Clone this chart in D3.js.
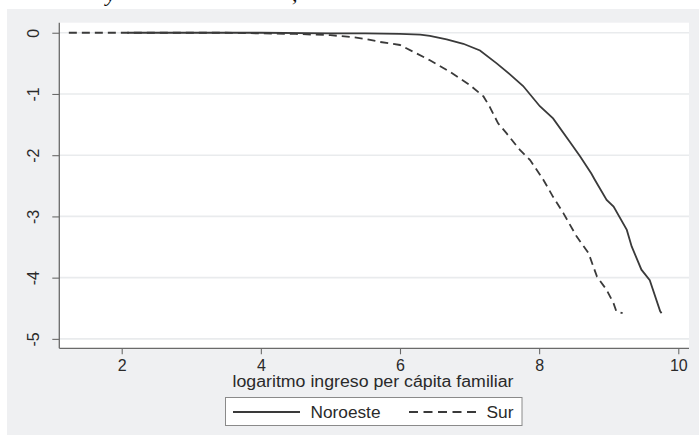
<!DOCTYPE html>
<html>
<head>
<meta charset="utf-8">
<script src="https://cdn.jsdelivr.net/npm/d3@7"></script>
<style>
  html, body { margin: 0; padding: 0; background: #ffffff; }
  svg { display: block; }
  text { font-family: "Liberation Sans", Arial, sans-serif; fill: #2a2a2a; }
</style>
</head>
<body>
<svg id="chart" width="699" height="439"></svg>
<script>
// Log income per capita (x) against the log of the cumulative share (y), by region
const noroesteX = [2.08, 3.0, 4.0, 5.0, 5.5, 6.0, 6.29, 6.43, 6.67, 6.91, 7.15, 7.39, 7.58, 7.77, 8.01, 8.20, 8.44, 8.59, 8.75, 8.80, 8.97, 9.07, 9.26, 9.33, 9.47, 9.59, 9.74, 9.76];
const noroesteY = [0.0, 0.0, 0.0, -0.01, -0.01, -0.02, -0.03, -0.05, -0.11, -0.18, -0.29, -0.50, -0.68, -0.87, -1.20, -1.40, -1.78, -2.02, -2.30, -2.40, -2.73, -2.84, -3.22, -3.49, -3.87, -4.04, -4.55, -4.58];

const surX = [1.24, 2.5, 3.5, 4.0, 4.5, 5.0, 5.3, 5.5, 5.71, 6.0, 6.43, 6.72, 7.0, 7.20, 7.29, 7.41, 7.53, 7.72, 7.87, 8.06, 8.20, 8.35, 8.54, 8.71, 8.83, 8.97, 9.07, 9.11, 9.20];
const surY = [0.0, 0.0, 0.0, -0.01, -0.02, -0.04, -0.07, -0.10, -0.15, -0.20, -0.45, -0.64, -0.85, -1.04, -1.21, -1.48, -1.64, -1.91, -2.08, -2.40, -2.68, -2.95, -3.33, -3.60, -3.98, -4.20, -4.42, -4.55, -4.58];

const xTicks = [2, 4, 6, 8, 10];
const yTicks = [0, -1, -2, -3, -4, -5];
const xTitle = "logaritmo ingreso per cápita familiar";
const seriesNames = ["Noroeste", "Sur"];

const svg = d3.select("#chart");
const ink = "#3a3a3a";

// last line of the page text above the figure, only its descenders in view
svg.append("text").attr("x", 106).attr("y", 0.5)
  .style("font-family", "'Liberation Serif', serif").style("font-style", "italic")
  .style("font-size", "22px").style("fill", "#111").text("y");
svg.append("text").attr("x", 292).attr("y", 0.5)
  .style("font-family", "'Liberation Serif', serif").style("font-style", "italic")
  .style("font-size", "22px").style("fill", "#111").text(",");

// graph region background
svg.append("rect").attr("x", 7).attr("y", 9).attr("width", 692).attr("height", 426)
  .attr("fill", "#eff0f2");

const x = d3.scaleLinear().domain([1.103, 10.154]).range([59.3, 689]);
const y = d3.scaleLinear().domain([0.164, -5.154]).range([22.7, 348.3]);

// plot region
svg.append("rect").attr("x", x.range()[0]).attr("y", y.range()[0])
  .attr("width", x.range()[1] - x.range()[0]).attr("height", y.range()[1] - y.range()[0])
  .attr("fill", "#ffffff");

// horizontal grid lines
svg.append("g").selectAll("line").data(yTicks).join("line")
  .attr("x1", x.range()[0]).attr("x2", x.range()[1])
  .attr("y1", d => y(d)).attr("y2", d => y(d))
  .attr("stroke", "#e9ebed").attr("stroke-width", 1.6);

// y axis
const yAxis = svg.append("g").attr("transform", `translate(${x.range()[0]},0)`)
  .call(d3.axisLeft(y).tickValues(yTicks).tickSize(7).tickFormat(d3.format("d")));
yAxis.select(".domain").attr("stroke", "#6a6a6a").attr("stroke-width", 1.3)
  .attr("d", `M0,${y.range()[0]}V${y.range()[1]}`);
yAxis.selectAll(".tick line").attr("stroke", "#6a6a6a").attr("stroke-width", 1.1);
yAxis.selectAll(".tick text")
  .attr("x", null).attr("dy", null).attr("y", null)
  .attr("text-anchor", "middle")
  .attr("transform", "translate(-20.8,0) rotate(-90)")
  .style("font-size", "16px").style("fill", "#2a2a2a")
  .text(d => d === 0 ? "0" : "-" + Math.abs(d));

// x axis
const xAxis = svg.append("g").attr("transform", `translate(0,${y.range()[1]})`)
  .call(d3.axisBottom(x).tickValues(xTicks).tickSize(6).tickFormat(d3.format("d")));
xAxis.select(".domain").attr("stroke", "#6a6a6a").attr("stroke-width", 1.3)
  .attr("d", `M${x.range()[0]},0H${x.range()[1]}`);
xAxis.selectAll(".tick line").attr("stroke", "#6a6a6a").attr("stroke-width", 1.1);
xAxis.selectAll(".tick text").attr("dy", null).attr("y", 22.5)
  .style("font-size", "16px").style("fill", "#2a2a2a");
svg.selectAll(".tick text").attr("font-family", null);

// axis title
svg.append("text").attr("x", 232.5).attr("y", 387)
  .attr("textLength", 281).attr("lengthAdjust", "spacingAndGlyphs")
  .style("font-size", "16px").text(xTitle);

// curves
const line = d3.line().x(d => x(d[0])).y(d => y(d[1]));
const noroeste = noroesteX.map((v, i) => [v, noroesteY[i]]);
const sur = surX.map((v, i) => [v, surY[i]]);

svg.append("path").datum(sur).attr("d", line)
  .attr("fill", "none").attr("stroke", ink).attr("stroke-width", 1.8)
  .attr("stroke-dasharray", "8,5");
svg.append("path").datum(noroeste).attr("d", line)
  .attr("fill", "none").attr("stroke", ink).attr("stroke-width", 1.8);

// legend
const lg = svg.append("g");
lg.append("rect").attr("x", 225.5).attr("y", 397.5).attr("width", 296.5).attr("height", 28)
  .attr("fill", "#ffffff").attr("stroke", "#8a8a8a").attr("stroke-width", 1);
lg.append("line").attr("x1", 233).attr("x2", 300).attr("y1", 412).attr("y2", 412)
  .attr("stroke", ink).attr("stroke-width", 1.8);
lg.append("text").attr("x", 310.5).attr("y", 417.8)
  .attr("textLength", 70).attr("lengthAdjust", "spacingAndGlyphs")
  .style("font-size", "16px").text(seriesNames[0]);
lg.append("line").attr("x1", 409).attr("x2", 476).attr("y1", 412).attr("y2", 412)
  .attr("stroke", ink).attr("stroke-width", 1.8).attr("stroke-dasharray", "9,5.5");
lg.append("text").attr("x", 486.5).attr("y", 417.8)
  .attr("textLength", 27).attr("lengthAdjust", "spacingAndGlyphs")
  .style("font-size", "16px").text(seriesNames[1]);
</script>
</body>
</html>
